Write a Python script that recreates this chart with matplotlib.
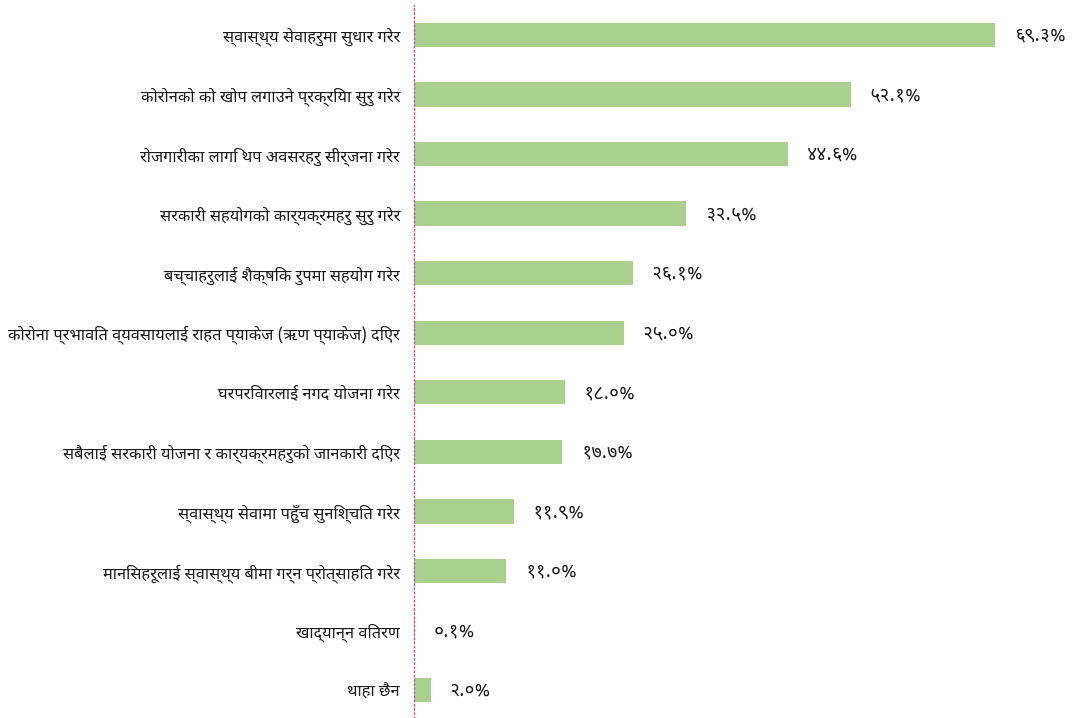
import matplotlib
matplotlib.use("Agg")
import matplotlib.pyplot as plt
from matplotlib import font_manager
from matplotlib.ft2font import FT2Font

categories = [
    "स्वास्थ्य सेवाहरुमा सुधार गरेर",
    "कोरोनको को खोप लगाउने प्रक्रिया सुरु गरेर",
    "रोजगारीका लागि थप अवसरहरु सीर्जना गरेर",
    "सरकारी सहयोगको कार्यक्रमहरु सुरु गरेर",
    "बच्चाहरुलाई शैक्षिक रुपमा सहयोग गरेर",
    "कोरोना प्रभावित व्यवसायलाई राहत प्याकेज (ऋण प्याकेज) दिएर",
    "घरपरिवारलाई नगद योजना गरेर",
    "सबैलाई सरकारी योजना र कार्यक्रमहरुको जानकारी दिएर",
    "स्वास्थ्य सेवामा पहुँच सुनिश्चित गरेर",
    "मानिसहरूलाई स्वास्थ्य बीमा गर्न प्रोत्साहित गरेर",
    "खाद्यान्न वितरण",
    "थाहा छैन",
]
values = [69.3, 52.1, 44.6, 32.5, 26.1, 25.0, 18.0, 17.7, 11.9, 11.0, 0.1, 2.0]
value_labels = ["६९.३%", "५२.१%", "४४.६%", "३२.५%", "२६.१%", "२५.०%",
                "१८.०%", "१७.७%", "११.९%", "११.०%", "०.१%", "२.०%"]

# find a font with Devanagari glyphs
def find_deva_font():
    cands = []
    for f in font_manager.fontManager.ttflist:
        try:
            cm = FT2Font(f.fname).get_charmap()
        except Exception:
            continue
        if 0x0915 in cm and 0x0967 in cm:
            score = 0
            n = f.name.lower()
            if "devanagari" in n:
                score += 2
            if "ui" in n:
                score += 1
            if f.weight in (400, "normal", "regular"):
                score += 1
            if f.style == "normal":
                score += 1
            cands.append((score, f.name))
    if cands:
        cands.sort(reverse=True)
        return cands[0][1]
    return None

deva = find_deva_font()
families = ([deva] if deva else []) + ["DejaVu Sans"]
plt.rcParams["font.family"] = families

fig = plt.figure(figsize=(10.73, 7.18), dpi=100)
W, H = 1073, 718
ax = fig.add_axes([414 / W, 0, 1 - 414 / W, 1 - 5 / H])

y = list(range(len(categories)))
ax.barh(y, values, height=0.41, color="#a9d08e", zorder=2)

px_per_unit = 8.38
ax.set_xlim(0, (W - 414) / px_per_unit)
top = -(35 - 5) / 59.5
bottom = 11 + (718 - 690) / 59.5
ax.set_ylim(bottom, top)

for yi, v, lab in zip(y, values, value_labels):
    ax.annotate(lab, (v, yi), xytext=(19, 0), textcoords="offset pixels",
                va="center", ha="left", fontsize=13.5, color="#1a1a1a")

ax.set_yticks(y)
ax.set_yticklabels(categories, fontsize=11.8, color="#1a1a1a")
ax.tick_params(axis="y", length=0, pad=10)
ax.set_xticks([])
for s in ["top", "right", "bottom"]:
    ax.spines[s].set_visible(False)
ax.spines["left"].set_color("#c45a8e")
ax.spines["left"].set_linestyle((0, (1, 2)))
ax.spines["left"].set_linewidth(1.0)
ax.set_facecolor("none")

fig.savefig("out.png", dpi=100)
